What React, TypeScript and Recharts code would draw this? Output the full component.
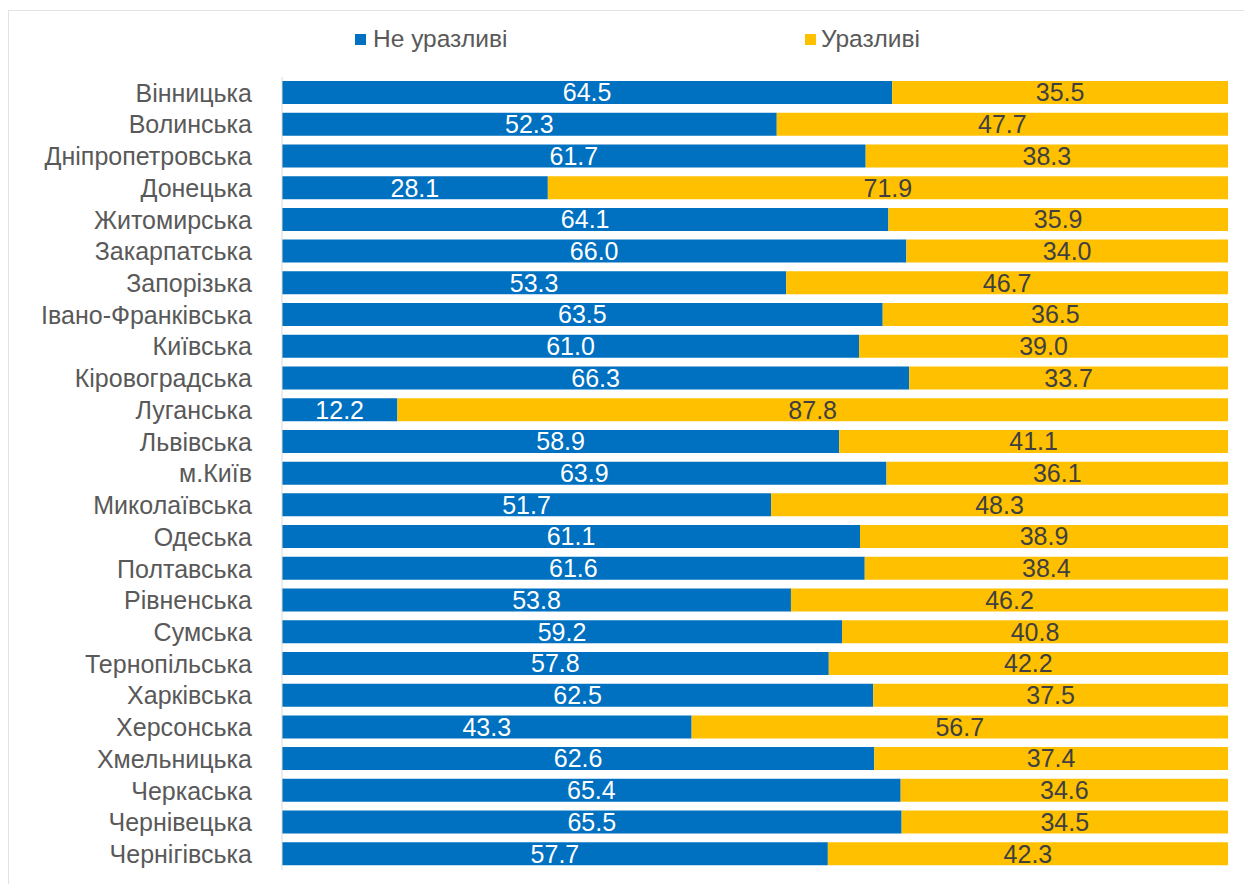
import React from 'react';
import { BarChart, Bar, XAxis, YAxis, LabelList } from 'recharts';

const regions = [
  'Вінницька', 'Волинська', 'Дніпропетровська', 'Донецька', 'Житомирська',
  'Закарпатська', 'Запорізька', 'Івано-Франківська', 'Київська', 'Кіровоградська',
  'Луганська', 'Львівська', 'м.Київ', 'Миколаївська', 'Одеська',
  'Полтавська', 'Рівненська', 'Сумська', 'Тернопільська', 'Харківська',
  'Херсонська', 'Хмельницька', 'Черкаська', 'Чернівецька', 'Чернігівська',
];

const notVulnerable = [
  64.5, 52.3, 61.7, 28.1, 64.1, 66.0, 53.3, 63.5, 61.0, 66.3,
  12.2, 58.9, 63.9, 51.7, 61.1, 61.6, 53.8, 59.2, 57.8, 62.5,
  43.3, 62.6, 65.4, 65.5, 57.7,
];

const vulnerable = [
  35.5, 47.7, 38.3, 71.9, 35.9, 34.0, 46.7, 36.5, 39.0, 33.7,
  87.8, 41.1, 36.1, 48.3, 38.9, 38.4, 46.2, 40.8, 42.2, 37.5,
  56.7, 37.4, 34.6, 34.5, 42.3,
];

const BLUE = '#0070C0';
const YELLOW = '#FFC000';
const FONT = '"Liberation Sans", Arial, sans-serif';

const data = regions.map((name, i) => ({
  name,
  notVulnerable: notVulnerable[i],
  vulnerable: vulnerable[i],
}));

const fmt = (v: any) => Number(v).toFixed(1);

// legend sits above the plot, outside recharts' layout so it doesn't eat plot height
const ChartLegend = () => (
  <div style={{ position: 'absolute', left: 0, top: 25, width: 1244, height: 30, fontFamily: FONT, fontSize: 24.5, color: '#595959', lineHeight: '28px' }}>
    <div style={{ position: 'absolute', left: 355, top: 0, display: 'flex', alignItems: 'center' }}>
      <span style={{ width: 11, height: 11, background: BLUE, marginRight: 7, display: 'inline-block' }} />
      Не уразливі
    </div>
    <div style={{ position: 'absolute', left: 805, top: 0, display: 'flex', alignItems: 'center' }}>
      <span style={{ width: 11, height: 11, background: YELLOW, marginRight: 5, display: 'inline-block' }} />
      Уразливі
    </div>
  </div>
);

export default function App() {
  return (
    <div style={{ position: 'absolute', left: 0, top: 0, width: 1244, height: 884, overflow: 'hidden', background: '#fff' }}>
      <div style={{ position: 'absolute', left: 8, top: 10, width: 1260, height: 900, border: '1px solid #e3e3e3' }} />
      <ChartLegend />
      <BarChart
        width={1244}
        height={884}
        data={data}
        layout="vertical"
        barSize={23}
        margin={{ top: 77, right: 16, bottom: 14, left: 0 }}
        style={{ fontFamily: FONT }}
      >
        <XAxis type="number" domain={[0, 100]} hide />
        <YAxis
          type="category"
          dataKey="name"
          width={282}
          tickLine={false}
          tickMargin={24}
          axisLine={{ stroke: '#d9d9d9' }}
          tick={{ fill: '#595959', fontSize: 25 }}
          interval={0}
        />
        <Bar dataKey="notVulnerable" stackId="a" fill={BLUE} isAnimationActive={false}>
          <LabelList dataKey="notVulnerable" position="center" fill="#ffffff" fontSize={25} formatter={fmt} />
        </Bar>
        <Bar dataKey="vulnerable" stackId="a" fill={YELLOW} isAnimationActive={false}>
          <LabelList dataKey="vulnerable" position="center" fill="#404040" fontSize={25} formatter={fmt} />
        </Bar>
      </BarChart>
    </div>
  );
}
